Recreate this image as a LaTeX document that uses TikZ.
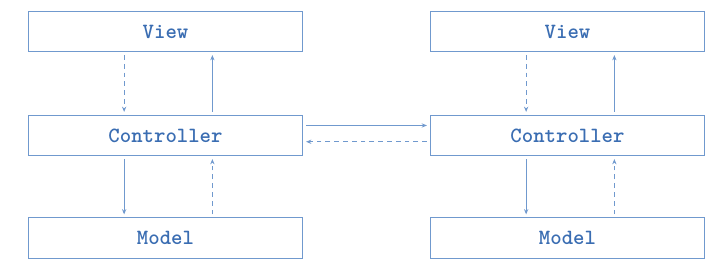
\documentclass[tikz,border=0pt]{standalone}
\usepackage{fontspec}
\usetikzlibrary{positioning, arrows.meta, calc}
\usepackage{xcolor}
\definecolor{mvcline}{HTML}{7099CE}
\definecolor{mvctext}{HTML}{3A6DB2}
\tikzset{
  mvcbox/.style={draw=mvcline, line width=0.8pt, minimum width=206pt, minimum height=30.5pt, inner sep=0pt,
    text=mvctext, font=\ttfamily\bfseries\fontsize{16.3}{18}\selectfont},
  call/.style={draw=mvcline, line width=0.75pt, -{Stealth[length=4pt, width=3.2pt]}, shorten >=2pt, shorten <=2pt},
  notify/.style={call, dash pattern=on 3.6pt off 3pt}
}

\begin{document}
\begin{tikzpicture}[x=0.75pt, y=-0.75pt]
  \useasboundingbox (0,0) rectangle (719,267);
  % two identical MVC stacks, side by side
  \foreach \s/\cx in {l/165.5, r/567.5} {
    \node[mvcbox] (view-\s) at (\cx,31.5) {View};
    \node[mvcbox] (ctrl-\s) at (\cx,135.5) {Controller};
    \node[mvcbox] (model-\s) at (\cx,238) {Model};
    \draw[notify] ($(view-\s.south west)!0.35!(view-\s.south east)$) -- ($(ctrl-\s.north west)!0.35!(ctrl-\s.north east)$);
    \draw[call] ($(ctrl-\s.north west)!0.67!(ctrl-\s.north east)$) -- ($(view-\s.south west)!0.67!(view-\s.south east)$);
    \draw[call] ($(ctrl-\s.south west)!0.35!(ctrl-\s.south east)$) -- ($(model-\s.north west)!0.35!(model-\s.north east)$);
    \draw[notify] ($(model-\s.north west)!0.67!(model-\s.north east)$) -- ($(ctrl-\s.south west)!0.67!(ctrl-\s.south east)$);
  }
  % controller to controller
  \draw[call] ($(ctrl-l.north east)!0.26!(ctrl-l.south east)$) -- ($(ctrl-r.north west)!0.26!(ctrl-r.south west)$);
  \draw[notify] ($(ctrl-r.north west)!0.65!(ctrl-r.south west)$) -- ($(ctrl-l.north east)!0.65!(ctrl-l.south east)$);
\end{tikzpicture}
\end{document}
